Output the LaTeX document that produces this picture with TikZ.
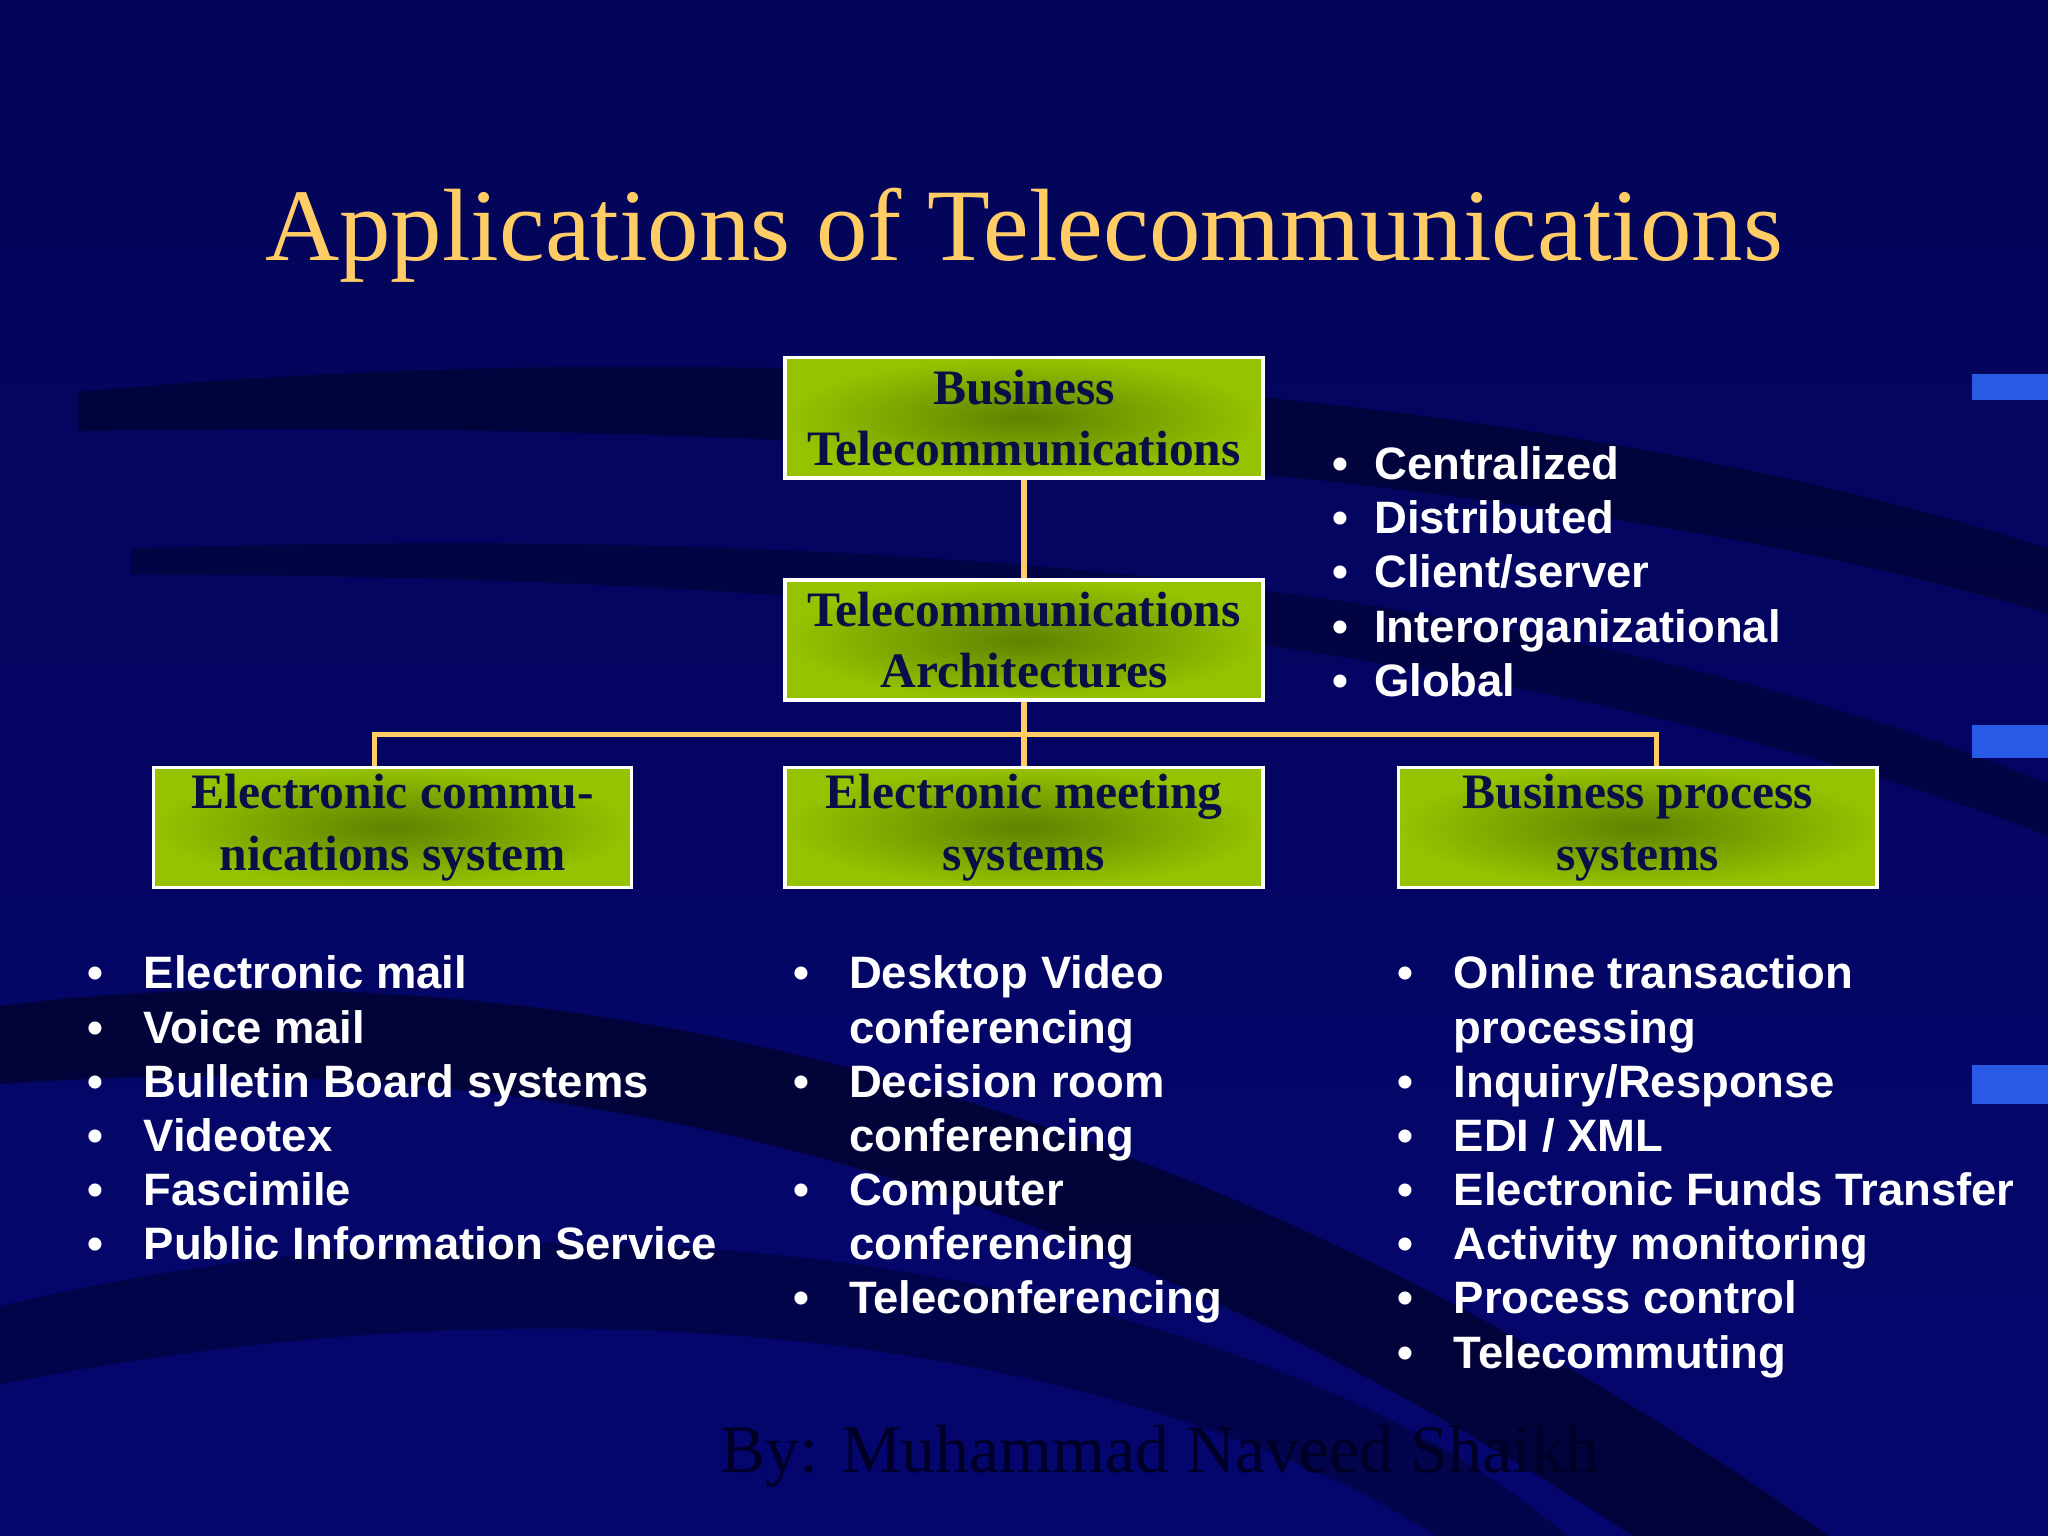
\documentclass[tikz,border=0pt]{standalone}
\usepackage{fontspec}
\setmainfont{Liberation Serif}
\setsansfont{Liberation Sans}
\usetikzlibrary{positioning}
\definecolor{bgblue}{RGB}{4,6,110}
\definecolor{gold}{RGB}{255,204,102}
\definecolor{olivedark}{RGB}{95,130,0}
\definecolor{olivelight}{RGB}{150,195,0}
\definecolor{navytext}{RGB}{10,15,70}
\definecolor{edgeblue}{RGB}{40,90,230}
\tikzset{
  px/.style={x=0.05cm,y=-0.05cm},
  gbox/.style={draw=white,line width=3.5pt,minimum width=18.3cm,minimum height=4.6cm,
    align=center,font=\fontsize{54}{67}\selectfont\bfseries,text=navytext,
    inner color=olivedark,outer color=olivelight},
  conn/.style={draw=gold,line width=5.5pt},
  blist/.style={anchor=north west,inner sep=0pt,text=white,font=\sffamily\bfseries\fontsize{49.5}{59}\selectfont,align=left},
}
\begin{document}
\begin{tikzpicture}[px]
\useasboundingbox (0,0) rectangle (1568,1176);
\shade[top color=bgblue!80!black,bottom color=bgblue] (0,0) rectangle (1568,1176);
% swooshes
\fill[black,opacity=0.45] (0,770) .. controls (400,720) and (900,820) .. (1400,1176) -- (1250,1176) .. controls (800,880) and (400,800) .. (0,830) -- cycle;
\fill[black,opacity=0.35] (60,300) .. controls (600,250) and (1200,300) .. (1568,420) -- (1568,470) .. controls (1200,360) and (600,320) .. (60,330) -- cycle;
\fill[black,opacity=0.3] (100,420) .. controls (700,400) and (1200,450) .. (1568,600) -- (1568,640) .. controls (1200,500) and (700,440) .. (100,440) -- cycle;
\fill[black,opacity=0.3] (0,1000) .. controls (500,880) and (1000,1000) .. (1200,1176) -- (1100,1176) .. controls (900,1050) and (500,960) .. (0,1060) -- cycle;
\fill[edgeblue] (1510,286) rectangle (1568,306);
\fill[edgeblue] (1510,555) rectangle (1568,580);
\fill[edgeblue] (1510,815) rectangle (1568,845);
% title
\node[text=gold,font=\fontsize{112}{120}\selectfont] (title) at (784,180) {Applications of Telecommunications};
% boxes
\node[gbox] (bt) at (784,320) {Business\\Telecommunications};
\node[gbox] (ta) at (784,490) {Telecommunications\\Architectures};
\node[gbox] (ec) at (300.5,633.5) {Electronic commu-\\nications system};
\node[gbox] (em) at (784,633.5) {Electronic meeting\\systems};
\node[gbox] (bp) at (1254,633.5) {Business process\\systems};
\coordinate (j) at (784,562);
\draw[conn] (bt) -- (ta);
\draw[conn] (ta) -- (j);
\draw[conn] (j) -| (ec.north -| 287,0);
\draw[conn] (j) -| (bp.north -| 1268,0);
\draw[conn] (j) -- (em);
% lists
\node[blist] (l0) at (1020,338) {\begin{tabular}{@{}p{1.6cm}@{}l@{}}
• & Centralized\\ • & Distributed\\ • & Client/server\\ • & Interorganizational\\ • & Global\end{tabular}};
\node[blist] (l1) at (67,728) {\begin{tabular}{@{}p{2.15cm}@{}l@{}}
• & Electronic mail\\ • & Voice mail\\ • & Bulletin Board systems\\ • & Videotex\\ • & Fascimile\\ • & Public Information Service\end{tabular}};
\node[blist] (l2) at (607,728) {\begin{tabular}{@{}p{2.15cm}@{}l@{}}
• & Desktop Video\\ & conferencing\\ • & Decision room\\ & conferencing\\ • & Computer\\ & conferencing\\ • & Teleconferencing\end{tabular}};
\node[blist] (l3) at (1070,728) {\begin{tabular}{@{}p{2.15cm}@{}l@{}}
• & Online transaction\\ & processing\\ • & Inquiry/Response\\ • & EDI / XML\\ • & Electronic Funds Transfer\\ • & Activity monitoring\\ • & Process control\\ • & Telecommuting\end{tabular}};
\node[text=black!85!blue,font=\fontsize{74}{90}\selectfont] (by) at (888,1115) {By: Muhammad Naveed Shaikh};
\end{tikzpicture}
\end{document}
